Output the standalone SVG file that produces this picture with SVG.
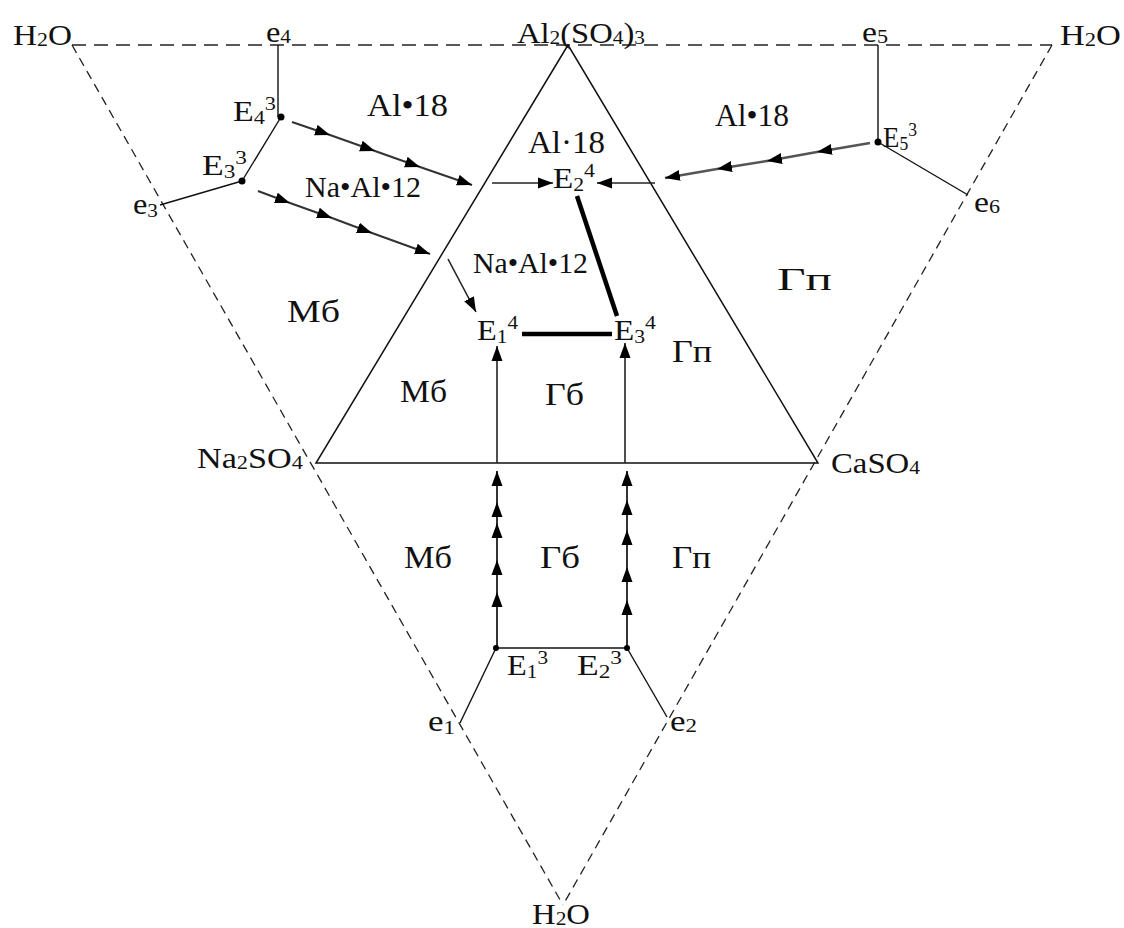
<svg xmlns="http://www.w3.org/2000/svg" width="1124" height="928" viewBox="0 0 1124 928">
<style>
.t{font-family:"Liberation Serif","Times New Roman",serif;font-size:29px;fill:#111}
.r{font-size:31px}
.s{font-size:19px}
.dash{fill:none;stroke:#222;stroke-width:1.3;stroke-dasharray:9 6}
.dtop{fill:none;stroke:#222;stroke-width:1.5;stroke-dasharray:14 8}
.tri{fill:none;stroke:#111;stroke-width:1.5}
.thin{fill:none;stroke:#111;stroke-width:1.4}
.arr{fill:none;stroke:#222;stroke-width:1.6;marker-end:url(#ah)}
.multi{fill:none;stroke:#333;stroke-width:2;marker-mid:url(#ah);marker-end:url(#ah)}
.multig{fill:none;stroke:#555;stroke-width:2.6;marker-mid:url(#ah);marker-end:url(#ah)}
.thick{fill:none;stroke:#000;stroke-width:4.5}
.dot{fill:#000}
</style>
<defs>
<marker id="ah" markerUnits="userSpaceOnUse" markerWidth="16" markerHeight="12" refX="15" refY="6" orient="auto">
<path d="M0,0.5 L15,6 L0,11.5 z" fill="#000"/>
</marker>
</defs>
<rect width="1124" height="928" fill="#fff"/>
<g id="frame">
<line class="dtop" x1="72" y1="45" x2="1052" y2="45"/>
<line class="dash" x1="72" y1="45" x2="563" y2="905"/>
<line class="dash" x1="1052" y1="45" x2="563" y2="905"/>
<polygon class="tri" points="568,45 316,463 818,463"/>
</g>
<g id="connectors">
<line class="thin" x1="278" y1="45" x2="278" y2="117"/>
<line class="thin" x1="281" y1="117" x2="242" y2="181"/>
<line class="thin" x1="242" y1="181" x2="160" y2="205"/>
<line class="thin" x1="878" y1="45" x2="878" y2="142"/>
<line class="thin" x1="878" y1="142" x2="968" y2="195"/>
<line class="thin" x1="496" y1="648" x2="627" y2="648"/>
<line class="thin" x1="496" y1="648" x2="460" y2="723"/>
<line class="thin" x1="627" y1="648" x2="667" y2="717"/>
<polyline class="multi" points="292,122 330,135 375,151 420,167 472,185"/>
<polyline class="multi" points="258,191 290,203 332,218 372,233 430,254"/>
<line class="arr" x1="448" y1="259" x2="476" y2="312"/>
<polyline class="multig" points="870,143 817,152 767,161 717,169 665,178"/>
<line class="arr" x1="655" y1="183" x2="597" y2="183"/>
<line class="arr" x1="492" y1="183" x2="553" y2="183"/>
<line class="arr" x1="497" y1="463" x2="497" y2="346"/>
<line class="arr" x1="625" y1="463" x2="625" y2="343"/>
<polyline class="multi" points="497,648 497,592 497,560 497,523 497,502 497,471"/>
<polyline class="multi" points="627,648 627,600 627,567 627,530 627,500 627,471"/>
<line class="thick" x1="577" y1="196" x2="617" y2="316"/>
<line class="thick" x1="522" y1="334" x2="612" y2="334"/>
</g>
<g id="points">
<circle class="dot" cx="281" cy="117" r="3.5"/>
<circle class="dot" cx="242" cy="181" r="3.5"/>
<circle class="dot" cx="878" cy="142" r="3.5"/>
<circle class="dot" cx="496" cy="648" r="3"/>
<circle class="dot" cx="627" cy="648" r="3"/>
</g>
<g id="n-h2o-left"><text class="t" x="13" y="45" textLength="59" lengthAdjust="spacingAndGlyphs">H<tspan class="s" dy="1">2</tspan><tspan dy="-1">O</tspan></text></g>
<g id="n-e4"><text class="t" x="266" y="42" textLength="25" lengthAdjust="spacingAndGlyphs">e<tspan class="s" dy="1">4</tspan></text></g>
<g id="n-al2so43"><text class="t" x="517" y="43" textLength="128" lengthAdjust="spacingAndGlyphs">Al<tspan class="s" dy="1">2</tspan><tspan dy="-1">(SO</tspan><tspan class="s" dy="1">4</tspan><tspan dy="-1">)</tspan><tspan class="s" dy="1">3</tspan></text></g>
<g id="n-e5"><text class="t" x="862" y="42" textLength="26" lengthAdjust="spacingAndGlyphs">e<tspan class="s" dy="1">5</tspan></text></g>
<g id="n-h2o-right"><text class="t" x="1060" y="45" textLength="61" lengthAdjust="spacingAndGlyphs">H<tspan class="s" dy="1">2</tspan><tspan dy="-1">O</tspan></text></g>
<g id="n-E43"><text class="t" x="233" y="121" textLength="43" lengthAdjust="spacingAndGlyphs">E<tspan class="s" dy="3">4</tspan><tspan class="s" dy="-14">3</tspan></text></g>
<g id="n-E33"><text class="t" x="202" y="175" textLength="45" lengthAdjust="spacingAndGlyphs">E<tspan class="s" dy="3">3</tspan><tspan class="s" dy="-14">3</tspan></text></g>
<g id="n-e3"><text class="t" x="133" y="214" textLength="25" lengthAdjust="spacingAndGlyphs">e<tspan class="s" dy="3">3</tspan></text></g>
<g id="n-E53"><text class="t" x="883" y="147" textLength="34" lengthAdjust="spacingAndGlyphs">E<tspan class="s" dy="3">5</tspan><tspan class="s" dy="-14">3</tspan></text></g>
<g id="n-e6"><text class="t" x="974" y="212" textLength="26" lengthAdjust="spacingAndGlyphs">e<tspan class="s" dy="1">6</tspan></text></g>
<g id="n-E24"><text class="t" x="553" y="188" textLength="42" lengthAdjust="spacingAndGlyphs">E<tspan class="s" dy="3">2</tspan><tspan class="s" dy="-14">4</tspan></text></g>
<g id="n-E14"><text class="t" x="477" y="340" textLength="41" lengthAdjust="spacingAndGlyphs">E<tspan class="s" dy="3">1</tspan><tspan class="s" dy="-14">4</tspan></text></g>
<g id="n-E34"><text class="t" x="614" y="340" textLength="42" lengthAdjust="spacingAndGlyphs">E<tspan class="s" dy="3">3</tspan><tspan class="s" dy="-14">4</tspan></text></g>
<g id="n-na2so4"><text class="t" x="197" y="468" textLength="106" lengthAdjust="spacingAndGlyphs">Na<tspan class="s" dy="1">2</tspan><tspan dy="-1">SO</tspan><tspan class="s" dy="1">4</tspan></text></g>
<g id="n-caso4"><text class="t" x="831" y="473" textLength="89" lengthAdjust="spacingAndGlyphs">CaSO<tspan class="s" dy="1">4</tspan></text></g>
<g id="n-E13"><text class="t" x="507" y="675" textLength="41" lengthAdjust="spacingAndGlyphs">E<tspan class="s" dy="3">1</tspan><tspan class="s" dy="-14">3</tspan></text></g>
<g id="n-E23"><text class="t" x="577" y="675" textLength="45" lengthAdjust="spacingAndGlyphs">E<tspan class="s" dy="3">2</tspan><tspan class="s" dy="-14">3</tspan></text></g>
<g id="n-e1"><text class="t" x="428" y="731" textLength="27" lengthAdjust="spacingAndGlyphs">e<tspan class="s" dy="3">1</tspan></text></g>
<g id="n-e2"><text class="t" x="670" y="731" textLength="27" lengthAdjust="spacingAndGlyphs">e<tspan class="s" dy="1">2</tspan></text></g>
<g id="n-h2o-bottom"><text class="t" x="532" y="924" textLength="58" lengthAdjust="spacingAndGlyphs">H<tspan class="s" dy="1">2</tspan><tspan dy="-1">O</tspan></text></g>
<g id="r-al18-left"><text class="t r" x="367" y="116" textLength="81" lengthAdjust="spacingAndGlyphs">Al•18</text></g>
<g id="r-al18-inner"><text class="t r" x="528" y="153" textLength="77" lengthAdjust="spacingAndGlyphs">Al·18</text></g>
<g id="r-al18-right"><text class="t r" x="715" y="126" textLength="74" lengthAdjust="spacingAndGlyphs">Al•18</text></g>
<g id="r-naal12-left"><text class="t" x="305" y="197" textLength="116" lengthAdjust="spacingAndGlyphs">Na•Al•12</text></g>
<g id="r-naal12-inner"><text class="t" x="473" y="273" textLength="115" lengthAdjust="spacingAndGlyphs">Na•Al•12</text></g>
<g id="r-gp-outer"><text class="t r" x="777" y="290" textLength="55" lengthAdjust="spacingAndGlyphs">Гп</text></g>
<g id="r-mb-outer"><text class="t r" x="287" y="322" textLength="53" lengthAdjust="spacingAndGlyphs">Мб</text></g>
<g id="r-gp-inner"><text class="t r" x="672" y="362" textLength="40" lengthAdjust="spacingAndGlyphs">Гп</text></g>
<g id="r-mb-inner"><text class="t r" x="400" y="402" textLength="47" lengthAdjust="spacingAndGlyphs">Мб</text></g>
<g id="r-gb-inner"><text class="t r" x="545" y="405" textLength="39" lengthAdjust="spacingAndGlyphs">Гб</text></g>
<g id="r-mb-bottom"><text class="t r" x="404" y="568" textLength="48" lengthAdjust="spacingAndGlyphs">Мб</text></g>
<g id="r-gb-bottom"><text class="t r" x="540" y="568" textLength="40" lengthAdjust="spacingAndGlyphs">Гб</text></g>
<g id="r-gp-bottom"><text class="t r" x="672" y="568" textLength="39" lengthAdjust="spacingAndGlyphs">Гп</text></g>
</svg>
